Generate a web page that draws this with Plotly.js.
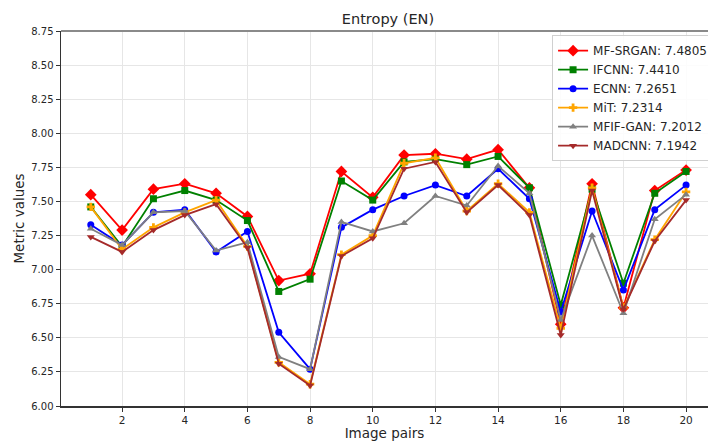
<!DOCTYPE html>
<html>
<head>
<meta charset="utf-8">
<script src="https://cdn.plot.ly/plotly-3.0.1.min.js"></script>
<style>html,body{margin:0;padding:0;background:#fff;}#chart{width:708px;height:441px;}</style>
</head>
<body>
<div id="chart"></div>
<script>
const imagePairs = [1,2,3,4,5,6,7,8,9,10,11,12,13,14,15,16,17,18,19,20];
const seriesNames = ["MF-SRGAN: 7.4805","IFCNN: 7.4410","ECNN: 7.2651","MiT: 7.2314","MFIF-GAN: 7.2012","MADCNN: 7.1942"];
const mfSrgan = [7.55,7.29,7.59,7.63,7.56,7.39,6.92,6.97,7.72,7.53,7.84,7.85,7.81,7.88,7.60,6.60,7.63,6.72,7.58,7.73];
const ifcnn   = [7.46,7.17,7.52,7.58,7.51,7.36,6.84,6.93,7.65,7.51,7.79,7.81,7.77,7.83,7.60,6.74,7.59,6.90,7.56,7.72];
const ecnn    = [7.33,7.18,7.42,7.44,7.13,7.28,6.54,6.27,7.31,7.44,7.54,7.62,7.54,7.74,7.52,6.69,7.43,6.85,7.44,7.62];
const mit     = [7.46,7.15,7.31,7.42,7.51,7.17,6.32,6.16,7.11,7.25,7.78,7.82,7.43,7.63,7.42,6.57,7.60,6.72,7.22,7.57];
const mfifGan = [7.30,7.18,7.42,7.43,7.14,7.20,6.36,6.27,7.35,7.28,7.34,7.54,7.47,7.76,7.56,6.63,7.25,6.68,7.37,7.55];
const madcnn  = [7.24,7.13,7.29,7.40,7.48,7.16,6.31,6.15,7.10,7.23,7.74,7.79,7.42,7.62,7.40,6.52,7.58,6.71,7.21,7.51];
const yTicks = [6.00,6.25,6.50,6.75,7.00,7.25,7.50,7.75,8.00,8.25,8.50,8.75];
const xTicks = [2,4,6,8,10,12,14,16,18,20];

const styles = [
  {color:'#ff0000', symbol:'diamond', size:9},
  {color:'#008000', symbol:'square', size:7},
  {color:'#0000ff', symbol:'circle', size:7},
  {color:'#ffa500', symbol:'cross', size:7},
  {color:'#808080', symbol:'triangle-up', size:7},
  {color:'#a52a2a', symbol:'triangle-down', size:7}
];
const allSeries = [mfSrgan, ifcnn, ecnn, mit, mfifGan, madcnn];
const traces = allSeries.map((ys, i) => ({
  x: imagePairs, y: ys, name: seriesNames[i], type: 'scatter', mode: 'lines+markers',
  line: {color: styles[i].color, width: 1.8},
  marker: {color: styles[i].color, symbol: styles[i].symbol, size: styles[i].size}
}));

const font = {family: 'DejaVu Sans, sans-serif', color: '#262626'};
const layout = {
  width: 708, height: 441,
  margin: {l: 61, r: 0, t: 31, b: 35, autoexpand: false},
  paper_bgcolor: '#fff', plot_bgcolor: '#fff',
  font: Object.assign({size: 10}, font),
  title: {text: 'Entropy (EN)', font: Object.assign({size: 14.5}, font), x: 0.548, xref: 'container', xanchor: 'center', y: 0.958, yref: 'container', yanchor: 'middle'},
  xaxis: {
    range: [0.05, 20.70], tickvals: xTicks, ticktext: xTicks.map(String),
    showgrid: true, gridcolor: '#e6e6e6', gridwidth: 1, zeroline: false,
    showline: true, linecolor: '#333', linewidth: 1.5,
    ticks: 'outside', ticklen: 4, tickcolor: '#333', tickfont: Object.assign({size: 10.5}, font),
    title: {text: 'Image pairs', font: Object.assign({size: 13.5}, font), standoff: 5}
  },
  yaxis: {
    range: [6.0, 8.75], tickvals: yTicks, ticktext: yTicks.map(v => v.toFixed(2)),
    showgrid: true, gridcolor: '#e6e6e6', gridwidth: 1, zeroline: false,
    showline: true, linecolor: '#333', linewidth: 1.5,
    ticks: 'outside', ticklen: 4, tickcolor: '#333', tickfont: Object.assign({size: 10}, font),
    title: {text: 'Metric values', font: Object.assign({size: 13.5}, font), standoff: 3}
  },
  shapes: [{type: 'line', xref: 'paper', yref: 'paper', x0: 0, x1: 1, y0: 1, y1: 1, line: {color: '#8a8a8a', width: 2}}],
  legend: {
    x: 0.759, y: 0.989, xanchor: 'left', yanchor: 'top',
    bgcolor: 'rgba(255,255,255,0.85)', bordercolor: '#d0d0d0', borderwidth: 1,
    font: Object.assign({size: 12}, font), tracegroupgap: 0, itemwidth: 30
  },
  showlegend: true
};
Plotly.newPlot('chart', traces, layout, {displayModeBar: false, staticPlot: true});
</script>
</body>
</html>
